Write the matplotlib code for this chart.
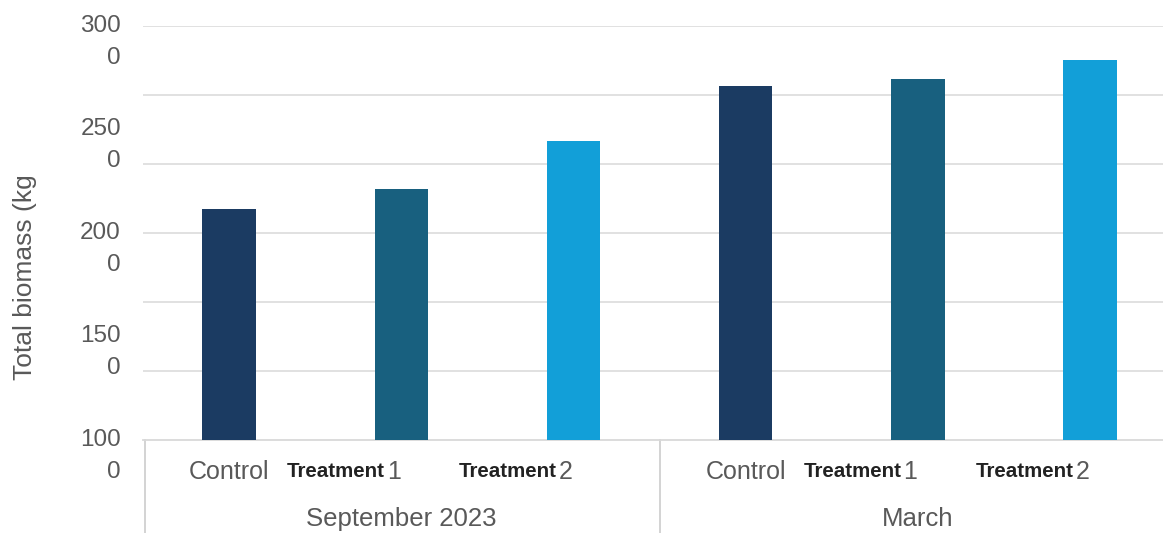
import matplotlib.pyplot as plt
from matplotlib.transforms import ScaledTranslation, blended_transform_factory

# data
periods = ["September 2023", "March"]
treatments = ["Control", "Treatment 1", "Treatment 2"]
biomass_sep = [2114, 2212, 2443]
biomass_mar = [2709, 2743, 2834]
bar_colors = ["#1b3b62", "#18607f", "#129fd8"]
ytick_values = [1000, 1500, 2000, 2500, 3000]
grid_values = [1000, 1333.3, 1666.7, 2000, 2333.3, 2666.7, 3000]

GRAY = "#595959"
FONT = "Liberation Sans"

fig = plt.figure(figsize=(11.63, 5.33), dpi=100)
ax = fig.add_axes([143 / 1163, 93 / 533, 1020 / 1163, 414.3 / 533])

values = biomass_sep + biomass_mar
xs = list(range(len(values)))
colors = bar_colors * len(periods)
ax.bar(xs, values, width=0.31, color=colors, zorder=3)

ax.set_xlim(-0.5, 5.424)
ax.set_ylim(1000, 3000)
for g in grid_values[1:]:
    ax.axhline(g, color="#d9d9d9", lw=1.1, zorder=1)

for side in ["top", "right", "left"]:
    ax.spines[side].set_visible(False)
ax.spines["bottom"].set_color("#d9d9d9")
ax.spines["bottom"].set_linewidth(1.3)
ax.set_xticks([])
ax.set_yticks([])

# split y tick labels ("300" over "0")
ytrans = ax.get_yaxis_transform()
down = ScaledTranslation(0, -0.32, fig.dpi_scale_trans)
for v in ytick_values:
    s = str(v)
    ax.text(-0.0216, v, s[:-1], transform=ytrans, ha="right", va="center",
            fontsize=17.5, color=GRAY, family=FONT)
    ax.text(-0.0216, v, s[-1], transform=ytrans + down, ha="right", va="center",
            fontsize=17.5, color=GRAY, family=FONT)

fig.text(25 / 1163, 0.481, "Total biomass (kg", rotation=90, ha="center",
         va="center", fontsize=19, color=GRAY, family=FONT)

# multi-level category axis
xtrans = blended_transform_factory(ax.transData, ax.transAxes)
y_cat = -0.077
y_grp = -0.191
for i, x in enumerate(xs):
    name = treatments[i % len(treatments)]
    if name == "Control":
        ax.text(x, y_cat, name, transform=xtrans, ha="center", va="center",
                fontsize=18, color=GRAY, family=FONT)
    else:
        word, num = name.split()
        ax.text(x - 0.095, y_cat, word, transform=xtrans, ha="right",
                va="center", fontsize=14.8, fontweight="bold",
                color="#222222", family=FONT)
        ax.text(x - 0.085, y_cat, num, transform=xtrans, ha="left",
                va="center", fontsize=18, color=GRAY, family=FONT)

n = len(treatments)
for k, period in enumerate(periods):
    center = (xs[k * n] + xs[k * n + n - 1]) / 2
    ax.text(center, y_grp, period, transform=xtrans, ha="center", va="center",
            fontsize=18.5, color=GRAY, family=FONT)

for xb in [-0.5 + 0.01, 2.5]:
    ax.plot([xb, xb], [0, -0.23], transform=xtrans, color="#d0d0d0",
            lw=1.3, clip_on=False)

fig.savefig("out.png", dpi=100)
